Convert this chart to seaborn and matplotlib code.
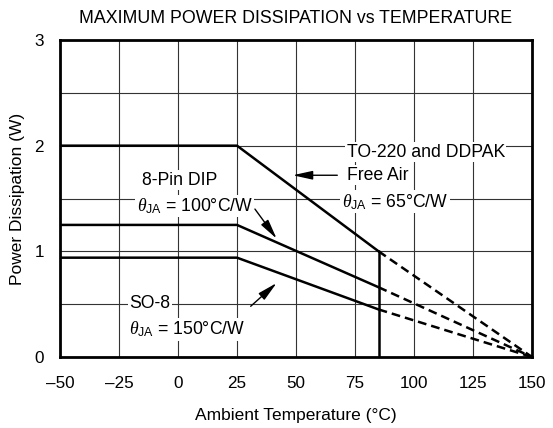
import matplotlib
matplotlib.use("Agg")
import matplotlib.pyplot as plt
import seaborn as sns
import pandas as pd
import numpy as np

# ---- data ----
temps_solid = [-50, 25, 85]
temps_dash = [85, 150]
to220_solid = [2.0, 2.0, 1.0]
to220_dash = [1.0, 0.0]
dip_solid = [1.25, 1.25, 0.66]
dip_dash = [0.66, 0.0]
so8_solid = [0.94, 0.94, 0.45]
so8_dash = [0.45, 0.0]
cutoff_x = [85, 85]
cutoff_y = [0.0, 1.0]
x_ticks = [-50, -25, 0, 25, 50, 75, 100, 125, 150]
y_ticks = [0, 1, 2, 3]

sns.set_theme(style="white")
plt.rcParams['font.family'] = ['Liberation Sans', 'DejaVu Sans']
plt.rcParams['mathtext.fontset'] = 'custom'
plt.rcParams['mathtext.rm'] = 'Liberation Sans'
plt.rcParams['mathtext.it'] = 'Liberation Serif:italic'
for k in ['text.color', 'axes.labelcolor', 'xtick.color', 'ytick.color']:
    plt.rcParams[k] = 'black'

fig = plt.figure(figsize=(5.53, 4.28), dpi=100)
ax = fig.add_axes([60/553, 1-357/428, 472/553, 317/428])

for ys in [to220_solid, dip_solid, so8_solid]:
    sns.lineplot(x=temps_solid, y=ys, ax=ax, color="black", lw=1.8, sort=False,
                 estimator=None)
for ys in [to220_dash, dip_dash, so8_dash]:
    sns.lineplot(x=temps_dash, y=ys, ax=ax, color="black", lw=1.8, sort=False,
                 estimator=None, linestyle=(0, (3.5, 2.0)))
sns.lineplot(x=cutoff_x, y=cutoff_y, ax=ax, color="black", lw=1.8, sort=False,
             estimator=None)

ax.set_xlim(-50, 150)
ax.set_ylim(0, 3)
ax.set_xticks(x_ticks)
ax.set_xticklabels([f"{t}".replace("-", "\u2013") for t in x_ticks])
ax.set_yticks(y_ticks)
ax.set_yticks(np.arange(0, 3.01, 0.5), minor=True)
ax.set_xticks(x_ticks, minor=True)
ax.grid(which="both", color="#333333", lw=0.8)
ax.set_axisbelow(True)
ax.tick_params(length=0, labelsize=12.3, colors="black")
ax.tick_params(axis="x", pad=14)
ax.tick_params(axis="y", pad=11.5)
for s in ax.spines.values():
    s.set_linewidth(2.0)
    s.set_color("black")

ax.set_xlabel("Ambient Temperature (\u00b0C)", fontsize=12.5, labelpad=12, color="black")
ax.set_ylabel("Power Dissipation (W)", fontsize=12.5, labelpad=7, color="black")
ax.set_title("MAXIMUM POWER DISSIPATION vs TEMPERATURE", fontsize=12.8, pad=12, color="black")

bb = dict(facecolor="white", edgecolor="none", pad=1.0)
fs = 12.7
theta = r"$\theta_{\mathrm{JA}}$"
tk = dict(fontsize=fs, ha="left", va="center", bbox=bb, color="black")
ax.text(71.5, 1.94, "TO-220 and DDPAK", **tk)
ax.text(71.5, 1.72, "Free Air", **tk)
ax.text(69.4, 1.47, theta + " = 65\u00b0C/W", **tk)
ax.text(-15.4, 1.675, "8-Pin DIP", **tk)
ax.text(-17.5, 1.43, theta + " = 100\u00b0C/W", **tk)
ax.text(-20.6, 0.504, "SO-8", **tk)
ax.text(-20.6, 0.26, theta + " = 150\u00b0C/W", **tk)

ap = dict(arrowstyle="-|>,head_length=1.0,head_width=0.22", color="black", lw=1.0,
          shrinkA=0, shrinkB=0, mutation_scale=12)
ax.annotate("", xy=(48.6, 1.72), xytext=(67.5, 1.72), arrowprops=ap)
ax.annotate("", xy=(41.8, 1.12), xytext=(32.6, 1.40), arrowprops=ap)
ax.annotate("", xy=(41.8, 0.70), xytext=(30.8, 0.48), arrowprops=ap)

fig.savefig("out.png", dpi=100)
